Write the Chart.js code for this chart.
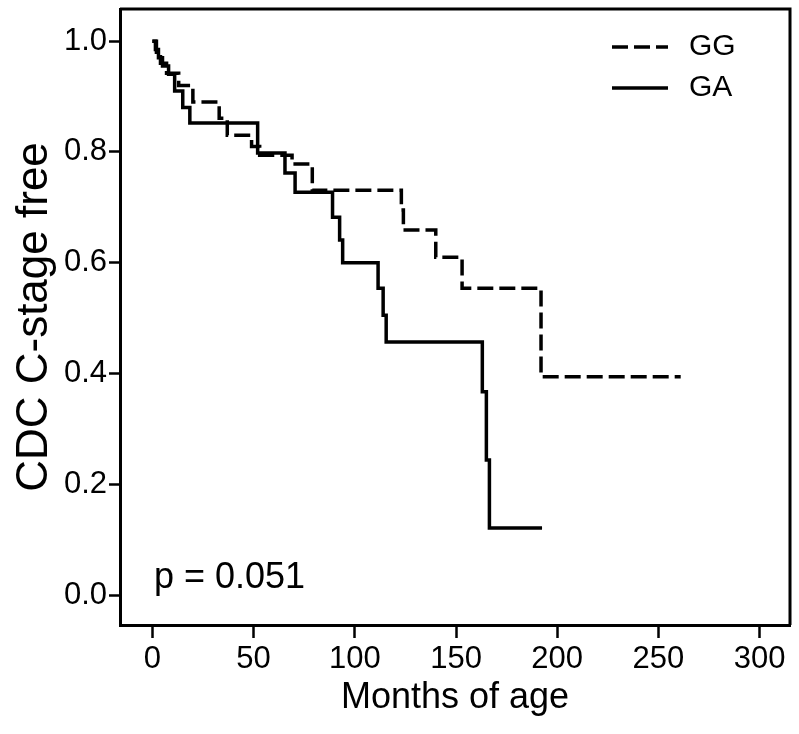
<!DOCTYPE html>
<html>
<head>
<meta charset="utf-8">
<script src="https://cdn.jsdelivr.net/npm/chart.js@4.4.0/dist/chart.umd.min.js"></script>
<style>
  html, body { margin: 0; padding: 0; background: #fff; }
  #wrap { width: 799px; height: 734px; }
</style>
</head>
<body>
<div id="wrap"><canvas id="km"></canvas></div>
<script>
// curvas de supervivencia (meses, proporcion libre)
const ggTime = [0, 2, 4, 7, 13, 20, 33, 37, 49, 53, 69, 79, 123, 124, 140, 153, 192, 261];
const ggSurv = [1.0, 0.98, 0.96, 0.942, 0.92, 0.89, 0.861, 0.83, 0.81, 0.794, 0.778, 0.731, 0.695, 0.659, 0.61, 0.554, 0.394, 0.394];

const gaTime = [0, 1.5, 3, 5, 8, 11, 15, 18.5, 52, 65.5, 70.5, 89, 92.5, 94, 111.5, 114, 115.5, 163, 165, 166.5, 192.5];
const gaSurv = [1.0, 0.985, 0.97, 0.955, 0.94, 0.91, 0.88, 0.852, 0.798, 0.762, 0.727, 0.682, 0.641, 0.60, 0.554, 0.505, 0.457, 0.367, 0.244, 0.121, 0.121];

const xTicks = [0, 50, 100, 150, 200, 250, 300];
const yTicks = [0.0, 0.2, 0.4, 0.6, 0.8, 1.0];

const seriesNames = ['GG', 'GA'];
const pLabel = 'p = 0.051';

const FONT = '"Liberation Sans", Arial, sans-serif';

function toPoints(t, s) {
    return t.map((v, i) => ({ x: v, y: s[i] }));
}

// marco superior/derecho, leyenda y valor p
const extras = {
    id: 'extras',
    afterDraw(chart) {
        const ctx = chart.ctx;
        const a = chart.chartArea;
        ctx.save();
        ctx.strokeStyle = '#000';
        ctx.lineWidth = 3;
        ctx.beginPath();
        ctx.moveTo(a.left, a.top);
        ctx.lineTo(a.right, a.top);
        ctx.lineTo(a.right, a.bottom);
        ctx.stroke();

        // leyenda
        ctx.font = '30px ' + FONT;
        ctx.fillStyle = '#000';
        ctx.textBaseline = 'middle';
        const ly = [47, 88];
        seriesNames.forEach((name, i) => {
            ctx.setLineDash(i === 0 ? [16, 6] : []);
            ctx.lineWidth = 3.5;
            ctx.beginPath();
            ctx.moveTo(612, ly[i]);
            ctx.lineTo(668, ly[i]);
            ctx.stroke();
            ctx.fillText(name, 689, ly[i]);
        });
        ctx.setLineDash([]);

        ctx.font = '36px ' + FONT;
        ctx.fillText(pLabel, 154, 578);
        ctx.restore();
    }
};

new Chart(document.getElementById('km'), {
    type: 'scatter',
    data: {
        datasets: [{
            label: seriesNames[0],
            data: toPoints(ggTime, ggSurv),
            showLine: true,
            stepped: true,
            borderColor: '#000',
            borderWidth: 3.5,
            borderDash: [16, 6],
            pointRadius: 0,
            fill: false
        }, {
            label: seriesNames[1],
            data: toPoints(gaTime, gaSurv),
            showLine: true,
            stepped: true,
            borderColor: '#000',
            borderWidth: 3.5,
            pointRadius: 0,
            fill: false
        }]
    },
    options: {
        responsive: true,
        maintainAspectRatio: false,
        animation: false,
        layout: { padding: { top: 9, right: 9, left: 0, bottom: 0 } },
        plugins: {
            legend: { display: false },
            tooltip: { enabled: false }
        },
        scales: {
            x: {
                type: 'linear',
                min: -16,
                max: 315,
                afterBuildTicks: (scale) => { scale.ticks = xTicks.map(v => ({ value: v })); },
                afterFit: (scale) => { scale.height = 109; scale.paddingLeft = 0; scale.paddingRight = 0; },
                border: { color: '#000', width: 3 },
                grid: { drawOnChartArea: false, drawTicks: true, tickLength: 13, tickColor: '#000', tickWidth: 2.5 },
                ticks: { color: '#000', font: { family: FONT, size: 31 }, padding: 3, maxRotation: 0 },
                title: { display: true, text: 'Months of age', color: '#000', font: { family: FONT, size: 36 }, padding: { top: 0, bottom: 14 } }
            },
            y: {
                type: 'linear',
                min: -0.054,
                max: 1.058,
                afterBuildTicks: (scale) => { scale.ticks = yTicks.map(v => ({ value: v })); },
                afterFit: (scale) => { scale.width = 120; scale.paddingTop = 0; scale.paddingBottom = 0; },
                border: { color: '#000', width: 3 },
                grid: { drawOnChartArea: false, drawTicks: true, tickLength: 11, tickColor: '#000', tickWidth: 2.5 },
                ticks: { color: '#000', font: { family: FONT, size: 31 }, padding: 2, callback: (v) => Number(v).toFixed(1) },
                title: { display: true, text: 'CDC C-stage free', color: '#000', font: { family: FONT, size: 44 }, padding: { top: 8, bottom: 0 } }
            }
        }
    },
    plugins: [extras]
});
</script>
</body>
</html>
